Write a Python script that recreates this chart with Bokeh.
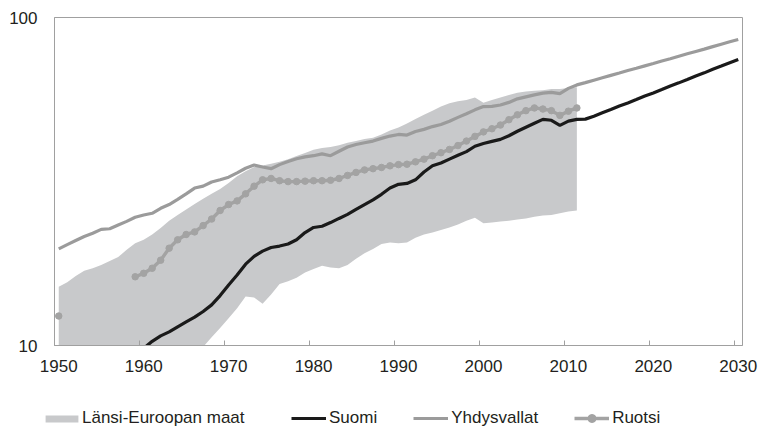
from bokeh.plotting import figure
from bokeh.models import Range1d, FixedTicker, NumeralTickFormatter, Legend, LegendItem
from bokeh.layouts import column
from bokeh.embed import file_html
from bokeh.resources import INLINE

NAN = float("nan")

# ---- data ----
tick_years = [1950, 1960, 1970, 1980, 1990, 2000, 2010, 2020, 2030]
y_ticks = [10, 100]

band_years = list(range(1950, 2012))
band_low = [6.0, 6.3, 6.6, 6.9, 7.2, 7.5, 7.8, 8.1, 8.4, 8.7,
            9.0, 9.2, 9.4, 9.5, 9.6, 9.7, 9.8, 9.9, 10.6, 11.3,
            12.1, 13.0, 14.1, 14.0, 13.4, 14.3, 15.4, 15.7, 16.1, 16.7,
            17.1, 17.5, 17.3, 17.2, 17.6, 18.4, 19.1, 19.7, 20.4, 20.6,
            20.5, 20.6, 21.3, 21.8, 22.1, 22.5, 22.9, 23.4, 24.0, 24.5,
            23.6, 23.7, 23.9, 24.0, 24.2, 24.4, 24.7, 24.9, 25.0, 25.3,
            25.6, 25.8]
band_high = [15.1, 15.6, 16.3, 16.9, 17.2, 17.6, 18.1, 18.6, 19.6, 20.5,
             21.0, 21.8, 22.8, 24.0, 25.0, 26.0, 27.0, 28.0, 29.0, 30.0,
             31.3, 32.8, 34.0, 35.0, 35.4, 35.8, 36.3, 37.0, 37.8, 38.6,
             39.5, 40.0, 40.3, 40.8, 41.5, 42.0, 42.6, 43.0, 44.0, 45.2,
             46.2, 47.5, 49.0, 50.5, 52.0, 53.5, 54.8, 55.5, 56.0, 57.0,
             55.0, 56.0, 57.0, 58.0, 59.0, 59.5, 59.8, 60.0, 60.5, 60.5,
             61.0, 61.3]

usa_years = list(range(1950, 2031))
usa = [19.7, 20.3, 20.9, 21.5, 22.0, 22.6, 22.7, 23.3, 23.9, 24.6,
       25.0, 25.3, 26.2, 26.9, 27.9, 29.0, 30.2, 30.6, 31.5, 32.0,
       32.6, 33.6, 34.7, 35.5, 35.0, 34.6, 35.6, 36.4, 37.1, 37.6,
       37.9, 38.4, 37.9, 39.1, 40.3, 41.0, 41.5, 42.0, 42.8, 43.5,
       44.0, 43.8, 44.9, 45.6, 46.5, 47.2, 48.3, 49.6, 50.9, 52.3,
       53.5, 53.6, 54.1, 55.1, 56.5, 57.3, 58.1, 58.8, 59.1, 58.6,
       60.8, 62.3, 63.3, 64.4, 65.5, 66.6, 67.7, 68.9, 70.0, 71.2,
       72.4, 73.7, 74.9, 76.2, 77.5, 78.8, 80.1, 81.5, 82.9, 84.3,
       85.7]

fi_years = list(range(1960, 2031))
suomi = [9.8, 10.3, 10.7, 11.0, 11.4, 11.8, 12.2, 12.7, 13.3, 14.2,
         15.3, 16.4, 17.7, 18.7, 19.4, 19.9, 20.1, 20.4, 21.0, 22.1,
         22.9, 23.1, 23.7, 24.4, 25.1, 26.0, 26.9, 27.8, 28.9, 30.2,
         31.0, 31.2, 32.0, 33.8, 35.3, 36.0, 37.0, 38.0, 39.0, 40.5,
         41.3, 41.9, 42.5, 43.6, 45.0, 46.3, 47.6, 48.9, 48.6, 46.9,
         48.3, 48.9, 49.0, 50.0, 51.2, 52.4, 53.7, 54.9, 56.2, 57.6,
         58.9, 60.3, 61.8, 63.2, 64.7, 66.3, 67.8, 69.5, 71.1, 72.8,
         74.5]

se_years = list(range(1950, 2012))
ruotsi = [12.3, NAN, NAN, NAN, NAN, NAN, NAN, NAN, NAN, 16.2,
          16.6, 17.2, 18.2, 19.8, 21.0, 21.8, 22.2, 23.2, 24.3, 25.8,
          26.9, 27.6, 29.0, 30.6, 32.0, 32.3, 31.8, 31.6, 31.6, 31.7,
          31.8, 31.8, 31.9, 32.3, 33.0, 33.7, 34.3, 34.6, 34.9, 35.3,
          35.6, 35.7, 36.3, 37.0, 37.9, 38.7, 39.6, 40.7, 42.0, 43.4,
          44.8, 45.8, 47.0, 48.8, 50.5, 52.0, 53.0, 52.6, 52.0, 50.3,
          51.8, 53.0]

labels = ["Länsi-Euroopan maat", "Suomi", "Yhdysvallat", "Ruotsi"]

# ---- style ----
FONT = "Liberation Sans"
TXT = "#231f20"
AXIS = "#a0a0a0"
BAND = "#c8c9cb"
USA_C = "#9b9b9b"
SE_C = "#a3a3a3"
FI_C = "#1a1a1a"


def draw_series(fig):
    rb = fig.varea(x=band_years, y1=band_low, y2=band_high, fill_color=BAND, fill_alpha=1)
    ru = fig.line(usa_years, usa, line_color=USA_C, line_width=3.2)
    rsl = fig.line(se_years, ruotsi, line_color=SE_C, line_width=3.4)
    rsp = fig.scatter(se_years, ruotsi, size=6.5, fill_color=SE_C, line_color=SE_C)
    rf = fig.line(fi_years, suomi, line_color=FI_C, line_width=3.2)
    return rb, ru, rsl, rsp, rf


# ---- main chart ----
p = figure(width=759, height=395, frame_width=688, frame_height=328, y_axis_type="log",
           x_range=Range1d(1949.5, 2030.5), y_range=Range1d(10, 100),
           output_backend="svg", toolbar_location=None,
           min_border_left=54, min_border_right=17, min_border_top=17, min_border_bottom=50)
p.background_fill_color = "white"
p.border_fill_color = "white"
p.outline_line_color = AXIS
p.outline_line_width = 1
p.xgrid.visible = False
p.ygrid.visible = False
draw_series(p)

xa = p.xaxis[0]
xa.ticker = FixedTicker(ticks=tick_years, minor_ticks=[t - 0.5 for t in tick_years])
xa.major_tick_in = 0
xa.major_tick_out = 0
xa.minor_tick_in = 5
xa.minor_tick_out = 0
xa.minor_tick_line_color = AXIS
xa.axis_line_color = AXIS
xa.major_label_standoff = 14
xa.major_label_text_font = FONT
xa.major_label_text_font_size = "17px"
xa.major_label_text_color = TXT

ya = p.yaxis[0]
ya.ticker = FixedTicker(ticks=y_ticks)
ya.formatter = NumeralTickFormatter(format="0")
ya.major_tick_in = 0
ya.major_tick_out = 0
ya.minor_tick_in = 0
ya.minor_tick_out = 0
ya.axis_line_color = AXIS
ya.major_label_standoff = 17
ya.major_label_text_font = FONT
ya.major_label_text_font_size = "17px"
ya.major_label_text_color = TXT

# ---- legend strip (same series, drawn outside its visible range) ----
lg_fig = figure(width=759, height=34, x_range=Range1d(0, 1), y_range=Range1d(0, 1),
                output_backend="svg", toolbar_location=None,
                x_axis_location=None, y_axis_location=None,
                min_border_left=0, min_border_right=0, min_border_top=0, min_border_bottom=0)
lg_fig.outline_line_color = None
lg_fig.xgrid.visible = False
lg_fig.ygrid.visible = False
lg_fig.background_fill_color = "white"
lg_fig.border_fill_color = "white"
x_shift = 0
if "frame_align" in lg_fig.properties():
    lg_fig.frame_align = False
else:
    x_shift = -54
lb, lu, lsl, lsp, lf = draw_series(lg_fig)

common = dict(orientation="horizontal", label_height=20, padding=0, margin=0,
              border_line_color=None, background_fill_alpha=0,
              label_text_font=FONT, label_text_font_size="17px", label_text_color=TXT)

leg_area = Legend(items=[LegendItem(label=labels[0], renderers=[lb])],
                  location=(41 + x_shift, 1), glyph_width=41, glyph_height=9,
                  label_standoff=0, spacing=0, **common)
leg_lines = Legend(items=[LegendItem(label=labels[1], renderers=[lf]),
                          LegendItem(label=labels[2], renderers=[lu]),
                          LegendItem(label=labels[3], renderers=[lsl, lsp])],
                   location=(291 + x_shift, 1), glyph_width=35, glyph_height=20,
                   label_standoff=3, spacing=36, **common)
lg_fig.add_layout(leg_area, "center")
lg_fig.add_layout(leg_lines, "center")

layout = column(p, lg_fig, spacing=0)
open("out.html", "w").write(file_html(layout, INLINE))
